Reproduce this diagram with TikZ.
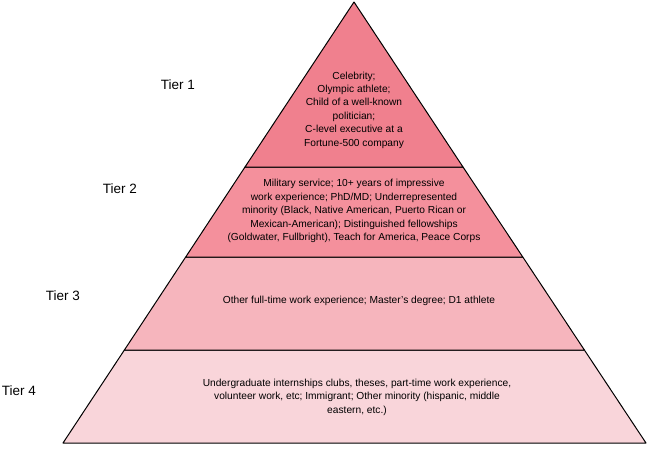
\documentclass[tikz,border=0pt]{standalone}
\usepackage{fontspec}
\setmainfont{Liberation Sans}
\definecolor{tierone}{RGB}{240,128,142}
\definecolor{tiertwo}{RGB}{244,144,156}
\definecolor{tierthree}{RGB}{246,181,189}
\definecolor{tierfour}{RGB}{249,213,218}
\tikzset{
  band/.style={draw=black,line width=1pt,line join=round},
  tiertext/.style={align=center,inner sep=0.75pt,font=\fontsize{10.2}{13.4}\selectfont},
  tierlabel/.style={anchor=west,inner sep=0.75pt,font=\fontsize{13.5}{16}\selectfont}
}
\begin{document}
\begin{tikzpicture}[x=1pt,y=1pt,yscale=-1]
\useasboundingbox (0,0) rectangle (659,448);

%Shape: bands of the pyramid
\draw [band,fill=tierfour] (63,443) -- (646,443) -- (584.4,350) -- (124.4,350) -- cycle ;
\draw [band,fill=tierthree] (124.4,350) -- (584.4,350) -- (522.8,257) -- (185.7,257) -- cycle ;
\draw [band,fill=tiertwo] (185.7,257) -- (522.8,257) -- (463,167) -- (245,167) -- cycle ;
\draw [band,fill=tierone] (245,167) -- (463,167) -- (354,2) -- cycle ;

% Text Node
\node [tiertext] (one) at (354,110) {Celebrity;\\Olympic athlete;\\Child of a well-known\\politician;\\C-level executive at a\\Fortune-500 company};
% Text Node
\node [tiertext] (two) at (354,211) {Military service; 10+ years of impressive\\work experience; PhD/MD; Underrepresented\\minority (Black, Native American, Puerto Rican or\\Mexican-American); Distinguished fellowships\\(Goldwater, Fullbright), Teach for America, Peace Corps};
% Text Node
\node [tiertext] (three) at (359,301) {Other full-time work experience; Master's degree; D1 athlete};
% Text Node
\node [tiertext] (four) at (357,397) {Undergraduate internships clubs, theses, part-time work experience,\\volunteer work, etc; Immigrant; Other minority (hispanic, middle\\eastern, etc.)};

% Text Node
\node [tierlabel] (lone) at (160,85) {Tier 1};
% Text Node
\node [tierlabel] (ltwo) at (102,189) {Tier 2};
% Text Node
\node [tierlabel] (lthree) at (45,296) {Tier 3};
% Text Node
\node [tierlabel] (lfour) at (1,391) {Tier 4};
\end{tikzpicture}
\end{document}
